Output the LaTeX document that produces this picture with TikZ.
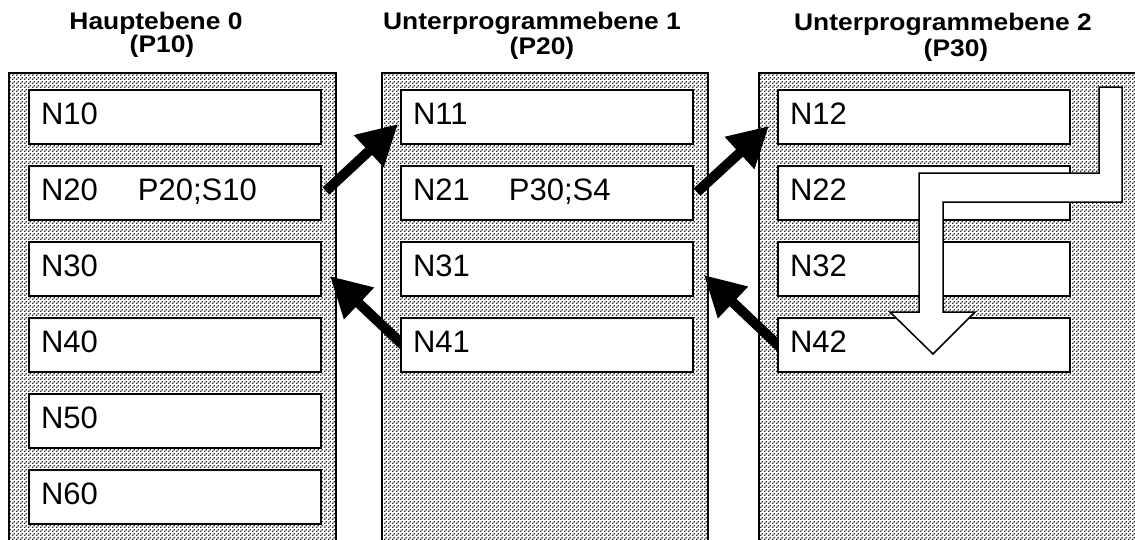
\documentclass[tikz,border=0pt]{standalone}
\usepackage{fontspec}
\setmainfont{Liberation Sans}
\newfontfamily\headfont[FakeStretch=1.1]{Liberation Sans}
\usetikzlibrary{arrows.meta,patterns.meta,calc}

% fine dot raster used for the level panels
\pgfdeclarepattern{
  name=dither,
  type=uncolored,
  bottom left={\pgfpoint{0pt}{0pt}},
  top right={\pgfpoint{4pt}{4pt}},
  tile size={\pgfpoint{4pt}{4pt}},
  code={
    \pgfpathrectangle{\pgfpoint{0pt}{0pt}}{\pgfpoint{1.7pt}{1.7pt}}
    \pgfpathrectangle{\pgfpoint{2pt}{2pt}}{\pgfpoint{1.7pt}{1.7pt}}
    \pgfusepath{fill}
  }
}

\pgfdeclarelayer{panels}
\pgfdeclarelayer{jumps}
\pgfsetlayers{panels,jumps,main}

\begin{document}
\begin{tikzpicture}[x=1pt,y=-1pt,
  panel/.style={draw=black, line width=1.5pt, pattern=dither, pattern color=black!85},
  stmt/.style={draw=black, line width=2pt, fill=white, anchor=north west,
    minimum width=292pt, minimum height=54pt, text width=268pt,
    inner xsep=12pt, inner ysep=0pt, align=left,
    text height=22pt, text depth=7pt, font=\fontsize{31}{36}\selectfont},
  head/.style={font=\headfont\bfseries\fontsize{24}{28}\selectfont,
    inner sep=0pt, anchor=base},
  jump/.style={line width=10pt, -{Triangle[length=40pt 0 0,width=41pt 0 0]}},
  flow/.style={draw=black, line width=1.5pt, fill=white, line join=miter}]

\useasboundingbox (0,0) rectangle (1135,539);

% level headings
\node[head] (h0a) at (156,29) {Hauptebene 0};
\node[head] (h0b) at (162,52) {(P10)};
\node[head] (h1a) at (532,29) {Unterprogrammebene 1};
\node[head] (h1b) at (542,54) {(P20)};
\node[head] (h2a) at (943,30) {Unterprogrammebene 2};
\node[head] (h2b) at (956,56) {(P30)};

% level panels
\begin{pgfonlayer}{panels}
  \path[panel] (9,73) rectangle (336,560);
  \path[panel] (382,73) rectangle (708,560);
  \path[panel] (759,73) rectangle (1160,560);
\end{pgfonlayer}

% main program blocks
\node[stmt] (n10) at (28,89)  {N10};
\node[stmt] (n20) at (28,165) {\makebox[97pt][l]{N20}P20;S10};
\node[stmt] (n30) at (28,241) {N30};
\node[stmt] (n40) at (28,317) {N40};
\node[stmt] (n50) at (28,393) {N50};
\node[stmt] (n60) at (28,469) {N60};

% subprogram level 1 blocks
\node[stmt] (n11) at (400,89)  {N11};
\node[stmt] (n21) at (400,165) {\makebox[96pt][l]{N21}P30;S4};
\node[stmt] (n31) at (400,241) {N31};
\node[stmt] (n41) at (400,317) {N41};

% subprogram level 2 blocks
\node[stmt] (n12) at (777,89)  {N12};
\node[stmt] (n22) at (777,165) {N22};
\node[stmt] (n32) at (777,241) {N32};
\node[stmt] (n42) at (777,317) {N42};

% calls and returns
\begin{pgfonlayer}{jumps}
  \draw[jump] ([xshift=4pt,yshift=2pt]n20.east) -- ([xshift=-2pt,yshift=-7pt]n11.west);
  \draw[jump] ([xshift=3pt,yshift=1pt]n21.east) -- ([xshift=-8pt,yshift=-9pt]n12.west);
  \draw[jump] ([xshift=4pt,yshift=-1pt]n41.west) -- ([xshift=8pt,yshift=-7pt]n30.east);
  \draw[jump] ([xshift=4pt,yshift=-3pt]n42.west) -- ([xshift=10pt,yshift=-6pt]n31.east);
\end{pgfonlayer}

% execution path through level 2
\draw[flow] (1099,87) -- (1122,87) -- (1122,202) -- (943,202) -- (943,312)
  -- (975,312) -- (933,354) -- (890,312) -- (919,312) -- (919,173)
  -- (1099,173) -- cycle;

\end{tikzpicture}
\end{document}
